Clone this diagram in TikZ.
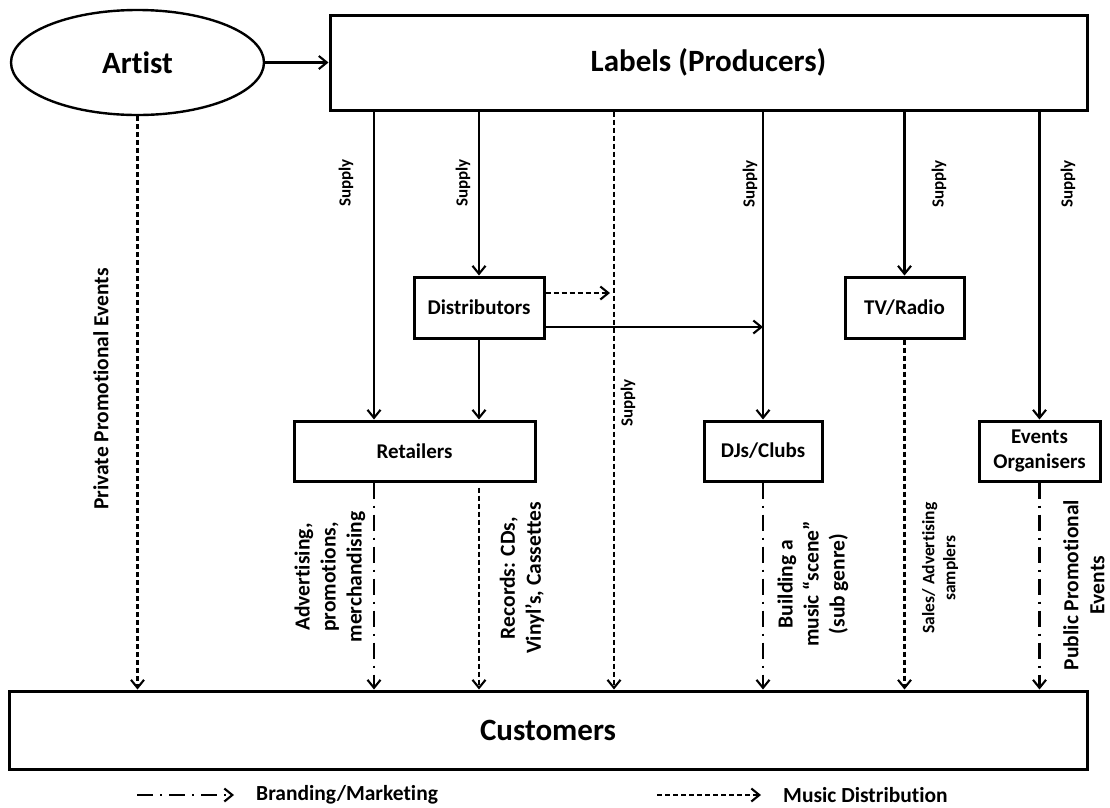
\documentclass[tikz,border=0pt]{standalone}
\usepackage{fontspec}
\setmainfont{Carlito}[Ligatures=NoCommon]
\usetikzlibrary{arrows.meta,shapes.geometric}
\begin{document}
\begin{tikzpicture}[x=1pt,y=-1pt,
  box/.style={draw, line width=3pt, rectangle, inner sep=0pt, align=center,
    font=\bfseries\fontsize{21}{25}\selectfont},
  bigbox/.style={box, font=\bfseries\fontsize{31}{37}\selectfont},
  flow/.style={line width=2.1pt, -{Straight Barb[length=8pt,width=13pt]}},
  musicdist/.style={flow, dash pattern=on 5pt off 3pt},
  branding/.style={flow, dash pattern=on 16pt off 7pt on 2pt off 7pt},
  supplylbl/.style={rotate=90, inner sep=0pt, font=\bfseries\fontsize{17}{20}\selectfont},
  sidelbl/.style={rotate=90, align=center, inner sep=0pt, font=\bfseries\fontsize{21.5}{26}\selectfont},
  smalllbl/.style={rotate=90, align=center, inner sep=0pt, font=\bfseries\fontsize{17.5}{21}\selectfont},
  legendlbl/.style={anchor=west, inner sep=0pt, font=\bfseries\fontsize{21.5}{25}\selectfont},
]
\useasboundingbox (0,0) rectangle (1110,807);

% nodes
\node[draw, ellipse, line width=2.4pt, inner sep=0pt, minimum width=253pt, minimum height=105pt,
  font=\bfseries\fontsize{31}{37}\selectfont] (artist) at (137.5,62.5) {Artist};
\node[bigbox, minimum width=757pt, minimum height=95pt] (labels) at (708.5,62.5) {Labels (Producers)};
\node[box, minimum width=130pt, minimum height=61pt] (distributors) at (479,307.5) {Distributors};
\node[box, minimum width=119pt, minimum height=61pt] (tvradio) at (904.5,307.5) {TV/Radio};
\node[box, minimum width=241pt, minimum height=60pt] (retailers) at (414.5,451) {Retailers};
\node[box, minimum width=118pt, minimum height=60pt] (djs) at (763,451) {DJs/Clubs};
\node[box, minimum width=121pt, minimum height=60pt] (events) at (1039.5,451) {Events\\Organisers};
\node[bigbox, minimum width=1078pt, minimum height=78pt] (customers) at (548,730) {Customers};

% columns of the vertical connectors
\coordinate (xpriv) at (137.5,0);
\coordinate (xret) at (374,0);
\coordinate (xdist) at (479,0);
\coordinate (xsup) at (614,0);
\coordinate (xdj) at (763,0);
\coordinate (xtv) at (904.5,0);
\coordinate (xev) at (1039.5,0);

% artist to labels
\draw[flow] (artist.east) -- (labels.west |- artist.east);

% supply lines from the labels
\draw[flow] (labels.south -| xret) -- (retailers.north -| xret);
\draw[flow] (labels.south -| xdist) -- (distributors.north);
\draw[flow] (labels.south -| xdj) -- (djs.north);
\draw[flow] (labels.south -| xtv) -- (tvradio.north);
\draw[flow] (labels.south -| xev) -- (events.north);
\draw[musicdist] (labels.south -| xsup) -- (customers.north -| xsup);

\node[supplylbl] at (346,183) {Supply};
\node[supplylbl] at (463,183) {Supply};
\node[supplylbl] at (750,184) {Supply};
\node[supplylbl] at (939,184) {Supply};
\node[supplylbl] at (1068,184) {Supply};
\node[supplylbl] at (628,403) {Supply};

% distributors onwards
\draw[musicdist] ([yshift=14.5pt]distributors.east) -- ([yshift=14.5pt,xshift=-4pt]distributors.east -| xsup);
\draw[flow] ([yshift=-19.5pt]distributors.east) -- ([yshift=-19.5pt]distributors.east -| xdj);
\draw[flow] (distributors.south) -- (retailers.north -| xdist);

% towards the customers
\draw[musicdist] (artist.south) -- (customers.north -| xpriv);
\draw[branding] (retailers.south -| xret) -- (customers.north -| xret);
\draw[musicdist, shorten <=5pt] (retailers.south -| xdist) -- (customers.north -| xdist);
\draw[branding] (djs.south) -- (customers.north -| xdj);
\draw[musicdist] (tvradio.south) -- (customers.north -| xtv);
\draw[branding] (events.south) -- (customers.north -| xev);

\node[sidelbl] at (101,389) {Private Promotional Events};
\node[sidelbl] at (330,577) {Advertising,\\promotions,\\merchandising};
\node[sidelbl] at (522,578) {Records: CDs,\\Vinyl's, Cassettes};
\node[sidelbl] at (813,584) {Building a\\music “scene”\\(sub genre)};
\node[smalllbl] at (940,568) {Sales/ Advertising\\samplers};
\node[sidelbl] at (1084,585) {Public Promotional\\Events};

% legend
\coordinate (legbs) at (137,795);
\coordinate (legbe) at (234,795);
\coordinate (legms) at (657,795);
\coordinate (legme) at (761,795);
\draw[branding] (legbs) -- (legbe);
\node[legendlbl] (legbt) at (256,795) {Branding/Marketing};
\draw[musicdist] (legms) -- (legme);
\node[legendlbl] (legmt) at (783,795) {Music Distribution};
\end{tikzpicture}
\end{document}
